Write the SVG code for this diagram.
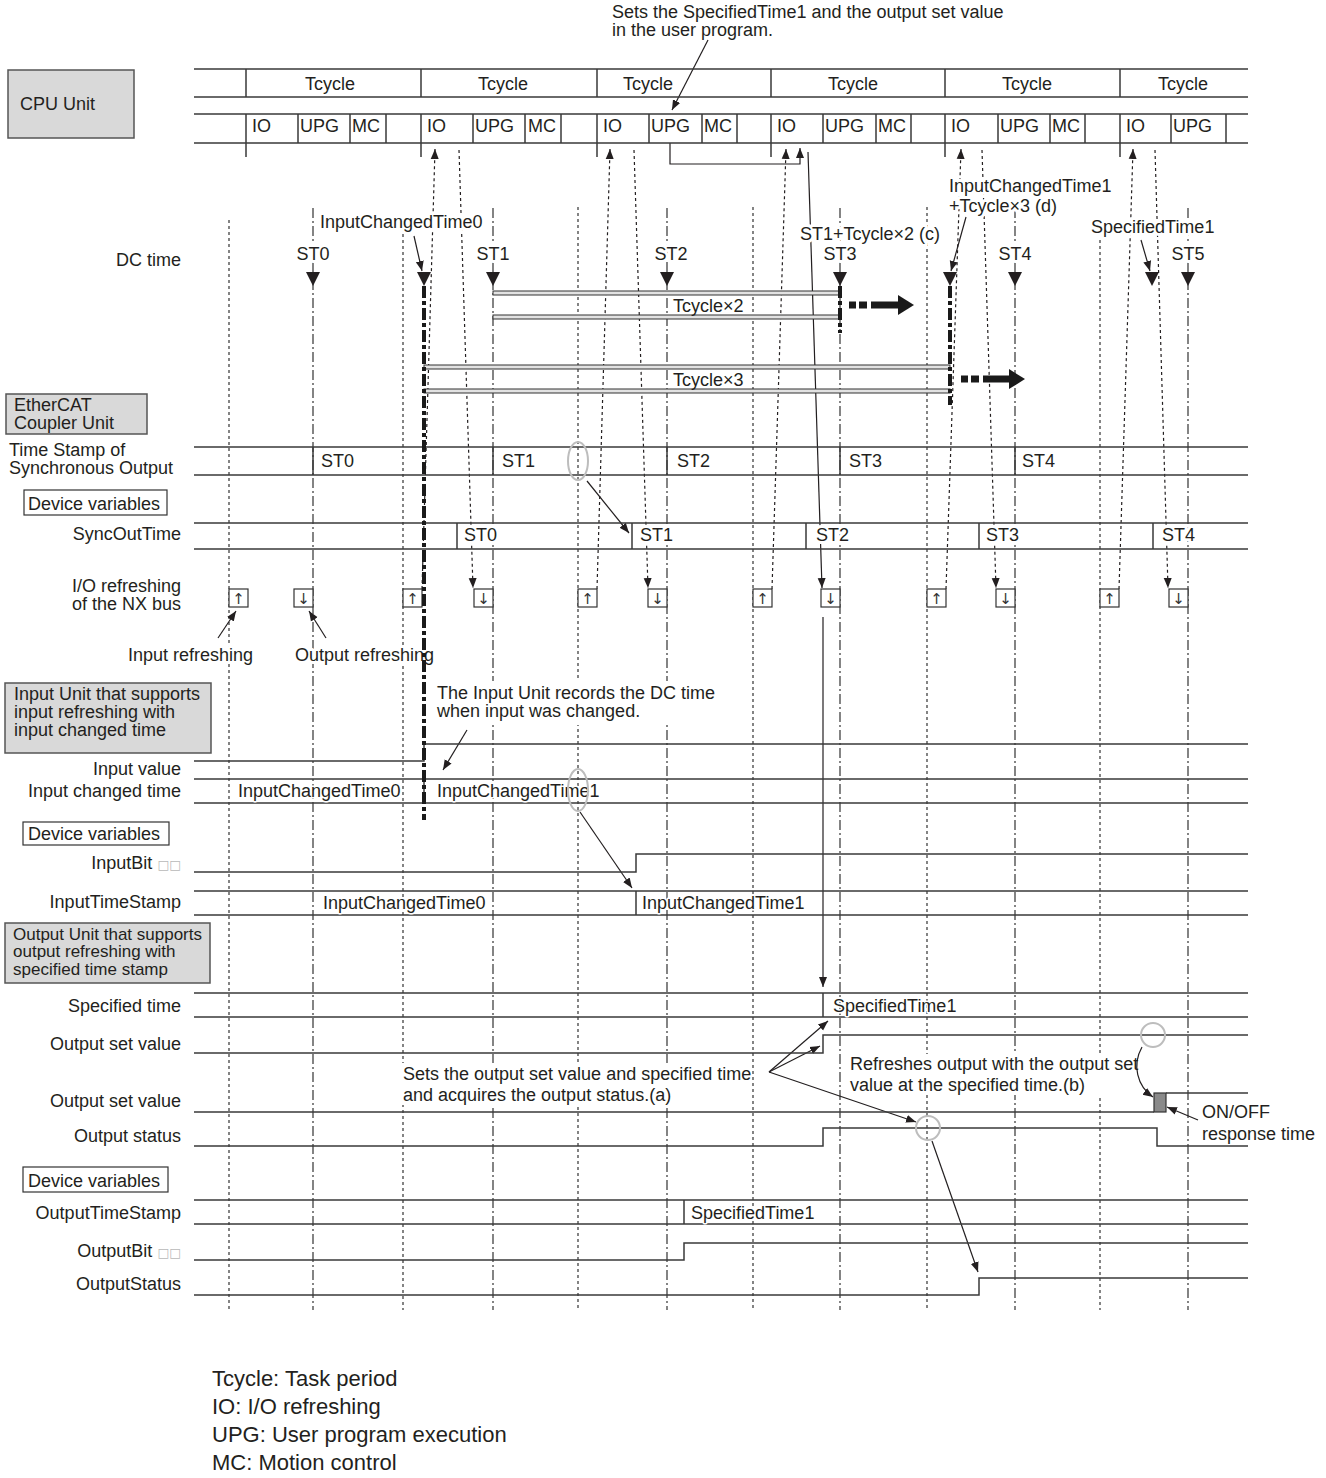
<svg xmlns="http://www.w3.org/2000/svg" width="1326" height="1478" viewBox="0 0 1326 1478">
<defs>
<style>
text{font-family:"Liberation Sans",Arial,Helvetica,sans-serif;font-size:18px;fill:#231f20}
.e{text-anchor:end}
.m{text-anchor:middle}
.h{stroke:#fff;stroke-width:6px;paint-order:stroke;stroke-linejoin:round}
.hs{stroke:#fff;stroke-width:3px;paint-order:stroke;stroke-linejoin:round}
.s17{font-size:17px}
.lg{font-size:22px}
.gl{font-family:"DejaVu Sans",sans-serif;font-size:15px;fill:#333}
.sq{fill:#b8b8b8;font-family:"DejaVu Sans",sans-serif;font-size:12.5px}
.ln{stroke:#3a3a3a;stroke-width:1.5;fill:none}
.dot{stroke:#333;stroke-width:1.2;stroke-dasharray:3 3;fill:none}
.dd{stroke:#333;stroke-width:1.2;stroke-dasharray:10 3 2 3;fill:none}
.bold{stroke:#1a1a1a;stroke-width:4;stroke-dasharray:12 3 4 3;fill:none}
.a{stroke:#231f20;stroke-width:1.2;fill:none;marker-end:url(#ah)}
.ad{stroke:#231f20;stroke-width:1.2;stroke-dasharray:3 3;fill:none;marker-end:url(#ah)}
.hl{fill:none;stroke:#bdbdbd;stroke-width:2}
.hdr{fill:#d9d9d9;stroke:#555;stroke-width:1.5}
.bx{fill:#fff;stroke:#333;stroke-width:1.2}
.bar{fill:#e2e2e2;stroke:#333;stroke-width:1}
.tri{fill:#231f20}
.wb{fill:#fff}
</style>
<marker id="ah" viewBox="0 0 10 10" refX="10" refY="5" markerWidth="10" markerHeight="10" markerUnits="userSpaceOnUse" orient="auto"><path d="M0,1 L10,5 L0,9 z" fill="#231f20"/></marker>
</defs>
<rect x="0" y="0" width="1326" height="1478" fill="#fff"/>

<g id="ref-lines">
<line class="dot" x1="229" y1="220" x2="229" y2="1310"/>
<line class="dot" x1="403" y1="234" x2="403" y2="1310"/>
<line class="dot" x1="578" y1="207" x2="578" y2="1310"/>
<line class="dot" x1="753" y1="207" x2="753" y2="1310"/>
<line class="dot" x1="927" y1="207" x2="927" y2="1310"/>
<line class="dot" x1="1100" y1="240" x2="1100" y2="1310"/>
<line class="dd" x1="313" y1="208" x2="313" y2="1310"/>
<line class="dd" x1="493" y1="208" x2="493" y2="1310"/>
<line class="dd" x1="667" y1="208" x2="667" y2="1310"/>
<line class="dd" x1="840" y1="208" x2="840" y2="1310"/>
<line class="dd" x1="1015" y1="208" x2="1015" y2="1310"/>
<line class="dd" x1="1188" y1="208" x2="1188" y2="1310"/>
</g>

<g id="note-top">
<text x="612" y="18">Sets the SpecifiedTime1 and the output set value</text>
<text x="612" y="36">in the user program.</text>
</g>

<g id="connectors">
<path class="ad" d="M422,589L435,149"/>
<path class="ad" d="M597,589L610,149"/>
<path class="ad" d="M772,589L786,149"/>
<path class="ad" d="M946,589L961,149"/>
<path class="ad" d="M1119,589L1133,149"/>
<path class="ad" d="M459,150L473,588"/>
<path class="ad" d="M634,150L648,588"/>
<path class="ad" d="M982,150L996,588"/>
<path class="ad" d="M1155,150L1168,588"/>
<path class="a" d="M808,152L822,588"/>
<path class="a" d="M823,617V987"/>
<path class="a" d="M670,143V164H800V148"/>
<path class="a" d="M708,40L672,110"/>
<path class="a" d="M414,236L422,271"/>
<path class="a" d="M966,217L951,271"/>
<path class="a" d="M1141,240L1150,271"/>
<path class="a" d="M587,481L629,533"/>
<path class="a" d="M218,638L236,611"/>
<path class="a" d="M326,638L309,611"/>
<path class="a" d="M467,730L443,770"/>
<path class="a" d="M580,812L632,888"/>
<path class="a" d="M769,1072L828,1021"/>
<path class="a" d="M769,1072L820,1046"/>
<path class="a" d="M769,1072L916,1122"/>
<path class="a" d="M932,1141L978,1272"/>
<path class="a" d="M1142,1047C1132,1065 1137,1086 1153,1097"/>
<path class="a" d="M1198,1120L1167,1107"/>
</g>

<g id="cpu-unit">
<rect class="hdr" x="8" y="70" width="126" height="68"/>
<text x="20" y="110">CPU Unit</text>
<path class="ln" d="M194,69H1248M194,97H1248M194,114H1248M194,143H1248"/>
<path class="ln" d="M246,69V97M421,69V97M597,69V97M771,69V97M945,69V97M1120,69V97"/>
<path class="ln" d="M246,114V157M298,114V143M350,114V143M386,114V143M421,114V157M473,114V143M525,114V143M561,114V143M597,114V157M649,114V143M702,114V143M737,114V143M771,114V157M823,114V143M876,114V143M911,114V143M945,114V157M998,114V143M1050,114V143M1085,114V143M1120,114V157M1171,114V143M1226,114V143"/>
<text class="m" x="330" y="90">Tcycle</text>
<text class="m" x="503" y="90">Tcycle</text>
<text class="m" x="648" y="90">Tcycle</text>
<text class="m" x="853" y="90">Tcycle</text>
<text class="m" x="1027" y="90">Tcycle</text>
<text class="m" x="1183" y="90">Tcycle</text>
<text x="252" y="132">IO</text><text x="300" y="132">UPG</text><text x="352" y="132">MC</text>
<text x="427" y="132">IO</text><text x="475" y="132">UPG</text><text x="528" y="132">MC</text>
<text x="603" y="132">IO</text><text x="651" y="132">UPG</text><text x="704" y="132">MC</text>
<text x="777" y="132">IO</text><text x="825" y="132">UPG</text><text x="878" y="132">MC</text>
<text x="951" y="132">IO</text><text x="1000" y="132">UPG</text><text x="1052" y="132">MC</text>
<text x="1126" y="132">IO</text><text x="1173" y="132">UPG</text>
</g>

<g id="ethercat-coupler">
<rect class="hdr" x="6" y="394" width="141" height="40"/>
<text x="14" y="411">EtherCAT</text>
<text x="14" y="429">Coupler Unit</text>
<text x="9" y="456">Time Stamp of</text>
<text x="9" y="474">Synchronous Output</text>
<path class="ln" d="M194,447H1248M194,475H1248M313,447V475M493,447V475M667,447V475M840,447V475M1015,447V475"/>
<text class="h" x="321" y="467">ST0</text><text class="h" x="502" y="467">ST1</text><text class="h" x="677" y="467">ST2</text><text class="h" x="849" y="467">ST3</text><text class="h" x="1022" y="467">ST4</text>
<rect class="bx" x="24" y="490" width="143" height="25"/>
<text x="28" y="510">Device variables</text>
<text class="e" x="181" y="540">SyncOutTime</text>
<path class="ln" d="M194,523H1248M194,549H1248M457,523V549M632,523V549M806,523V549M979,523V549M1153,523V549"/>
<text class="h" x="464" y="541">ST0</text><text class="h" x="640" y="541">ST1</text><text class="h" x="816" y="541">ST2</text><text class="h" x="986" y="541">ST3</text><text class="h" x="1162" y="541">ST4</text>
<text class="e" x="181" y="592">I/O refreshing</text>
<text class="e" x="181" y="610">of the NX bus</text>
<rect class="bx" x="229" y="589" width="19" height="18"/><text class="m gl" x="238.5" y="604">↑</text>
<rect class="bx" x="294" y="589" width="19" height="18"/><text class="m gl" x="303.5" y="604">↓</text>
<rect class="bx" x="403" y="589" width="19" height="18"/><text class="m gl" x="412.5" y="604">↑</text>
<rect class="bx" x="474" y="589" width="19" height="18"/><text class="m gl" x="483.5" y="604">↓</text>
<rect class="bx" x="578" y="589" width="19" height="18"/><text class="m gl" x="587.5" y="604">↑</text>
<rect class="bx" x="648" y="589" width="19" height="18"/><text class="m gl" x="657.5" y="604">↓</text>
<rect class="bx" x="753" y="589" width="19" height="18"/><text class="m gl" x="762.5" y="604">↑</text>
<rect class="bx" x="821" y="589" width="19" height="18"/><text class="m gl" x="830.5" y="604">↓</text>
<rect class="bx" x="927" y="589" width="19" height="18"/><text class="m gl" x="936.5" y="604">↑</text>
<rect class="bx" x="996" y="589" width="19" height="18"/><text class="m gl" x="1005.5" y="604">↓</text>
<rect class="bx" x="1100" y="589" width="19" height="18"/><text class="m gl" x="1109.5" y="604">↑</text>
<rect class="bx" x="1169" y="589" width="19" height="18"/><text class="m gl" x="1178.5" y="604">↓</text>
<text class="h" x="128" y="661">Input refreshing</text>
<text class="h" x="295" y="661">Output refreshing</text>
<ellipse class="hl" cx="578" cy="461" rx="10" ry="19"/>
</g>

<g id="input-unit">
<rect class="hdr" x="5" y="683" width="206" height="70"/>
<text x="14" y="700">Input Unit that supports</text>
<text x="14" y="718">input refreshing with</text>
<text x="14" y="736">input changed time</text>
<rect class="wb" x="432" y="681" width="292" height="44"/>
<text x="437" y="699">The Input Unit records the DC time</text>
<text x="437" y="717">when input was changed.</text>
<text class="e" x="181" y="775">Input value</text>
<path class="ln" d="M194,761H424V744H1248"/>
<text class="e" x="181" y="797">Input changed time</text>
<path class="ln" d="M194,779H1248M194,803H1248M424,779V803"/>
<text class="hs" x="238" y="797">InputChangedTime0</text>
<text class="hs" x="437" y="797">InputChangedTime1</text>
<ellipse class="hl" cx="578" cy="790" rx="10" ry="21"/>
<rect class="bx" x="23" y="822" width="146" height="23"/>
<text x="28" y="840">Device variables</text>
<text class="e" x="181" y="869">InputBit <tspan class="sq">□□</tspan></text>
<path class="ln" d="M194,872H636V854H1248"/>
<text class="e" x="181" y="908">InputTimeStamp</text>
<path class="ln" d="M194,891H1248M194,915H1248M636,891V915"/>
<text class="hs" x="323" y="909">InputChangedTime0</text>
<text class="hs" x="642" y="909">InputChangedTime1</text>
</g>

<g id="output-unit">
<rect class="hdr" x="5" y="923" width="205" height="60"/>
<text class="s17" x="13" y="940">Output Unit that supports</text>
<text class="s17" x="13" y="957">output refreshing with</text>
<text class="s17" x="13" y="975">specified time stamp</text>
<text class="e" x="181" y="1012">Specified time</text>
<path class="ln" d="M194,993H1248M194,1017H1248M823,993V1017"/>
<text class="hs" x="833" y="1012">SpecifiedTime1</text>
<text class="e" x="181" y="1050">Output set value</text>
<path class="ln" d="M194,1053H823V1035H1248"/>
<text class="e" x="181" y="1107">Output set value</text>
<path class="ln" d="M194,1112H1154M1166,1093H1248"/>
<rect x="1154" y="1093" width="12" height="19" fill="#8a8a8a" stroke="#333" stroke-width="1.2"/>
<text class="e" x="181" y="1142">Output status</text>
<path class="ln" d="M194,1146H823V1128H1157V1146H1248"/>
<rect class="wb" x="400" y="1063" width="346" height="42"/>
<text x="403" y="1080">Sets the output set value and specified time</text>
<text x="403" y="1101">and acquires the output status.(a)</text>
<rect class="wb" x="846" y="1054" width="284" height="41"/>
<text x="850" y="1070">Refreshes output with the output set</text>
<text x="850" y="1091">value at the specified time.(b)</text>
<text x="1202" y="1118">ON/OFF</text>
<text x="1202" y="1140">response time</text>
<circle class="hl" cx="928" cy="1128" r="12"/>
<circle class="hl" cx="1153" cy="1035" r="12"/>
<rect class="bx" x="23" y="1167" width="145" height="25"/>
<text x="28" y="1187">Device variables</text>
<text class="e" x="181" y="1219">OutputTimeStamp</text>
<path class="ln" d="M194,1200H1248M194,1224H1248M684,1200V1224"/>
<text class="hs" x="691" y="1219">SpecifiedTime1</text>
<text class="e" x="181" y="1257">OutputBit <tspan class="sq">□□</tspan></text>
<path class="ln" d="M194,1260H684V1243H1248"/>
<text class="e" x="181" y="1290">OutputStatus</text>
<path class="ln" d="M194,1295H979V1278H1248"/>
</g>

<g id="dc-time">
<text class="e" x="181" y="266">DC time</text>
<rect class="bar" x="493" y="291" width="347" height="4"/>
<rect class="bar" x="493" y="315" width="347" height="4"/>
<text x="673" y="312">Tcycle×2</text>
<rect class="bar" x="424" y="365" width="526" height="4"/>
<rect class="bar" x="424" y="389" width="526" height="4"/>
<text x="673" y="386">Tcycle×3</text>
<line class="bold" x1="424" y1="286" x2="424" y2="820"/>
<line class="bold" x1="840" y1="286" x2="840" y2="333"/>
<line class="bold" x1="950" y1="286" x2="950" y2="405"/>
<g fill="#1a1a1a">
<rect x="849" y="301.5" width="7" height="7"/><rect x="859" y="301.5" width="8" height="7"/><rect x="871" y="301.5" width="28" height="7"/><polygon points="898,295 914,305 898,315"/>
<rect x="961" y="375.5" width="7" height="7"/><rect x="971" y="375.5" width="8" height="7"/><rect x="983" y="375.5" width="27" height="7"/><polygon points="1009,369 1025,379 1009,389"/>
</g>
<text class="m h" x="313" y="260">ST0</text>
<text class="m h" x="493" y="260">ST1</text>
<text class="m h" x="671" y="260">ST2</text>
<text class="m h" x="840" y="260">ST3</text>
<text class="m h" x="1015" y="260">ST4</text>
<text class="m h" x="1188" y="260">ST5</text>
<text class="h" x="320" y="228">InputChangedTime0</text>
<text class="h" x="800" y="240">ST1+Tcycle×2 (c)</text>
<text class="h" x="949" y="192">InputChangedTime1</text>
<text class="h" x="949" y="212">+Tcycle×3 (d)</text>
<text class="h" x="1091" y="233">SpecifiedTime1</text>
<polygon class="tri" points="306,272 320,272 313,286"/>
<polygon class="tri" points="417,272 431,272 424,286"/>
<polygon class="tri" points="486,272 500,272 493,286"/>
<polygon class="tri" points="660,272 674,272 667,286"/>
<polygon class="tri" points="833,272 847,272 840,286"/>
<polygon class="tri" points="943,272 957,272 950,286"/>
<polygon class="tri" points="1008,272 1022,272 1015,286"/>
<polygon class="tri" points="1145,272 1159,272 1152,286"/>
<polygon class="tri" points="1181,272 1195,272 1188,286"/>
</g>

<g id="legend">
<text class="lg" x="212" y="1386">Tcycle: Task period</text>
<text class="lg" x="212" y="1414">IO: I/O refreshing</text>
<text class="lg" x="212" y="1442">UPG: User program execution</text>
<text class="lg" x="212" y="1470">MC: Motion control</text>
</g>
</svg>
